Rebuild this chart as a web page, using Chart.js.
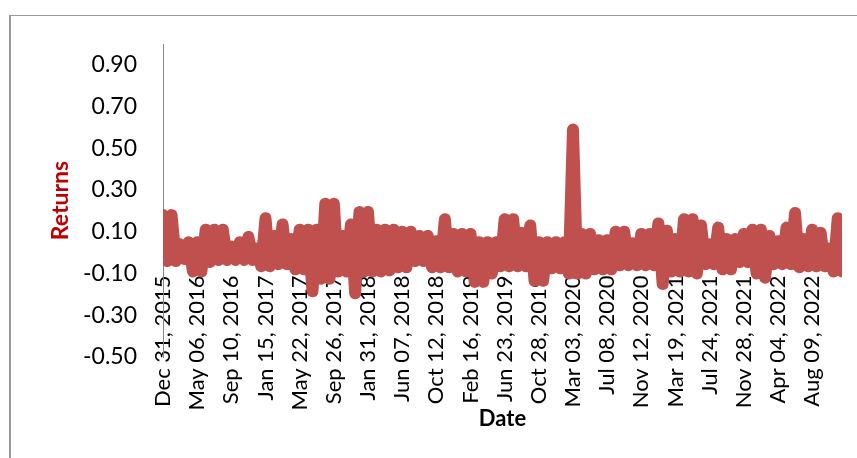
<!DOCTYPE html>
<html>
<head>
<meta charset="utf-8">
<script src="https://cdn.jsdelivr.net/npm/chart.js@4.4.1/dist/chart.umd.min.js"></script>
<style>
  html, body { margin: 0; padding: 0; background: #fff; }
  #wrap { position: relative; width: 857px; height: 458px; overflow: hidden; }
  #frame { position: absolute; left: 9px; top: 15px; width: 900px; height: 500px;
           border-left: 2px solid #999; border-top: 1px solid #999; }
  canvas { position: absolute; left: 0; top: 0; }
</style>
</head>
<body>
<div id="wrap">
  <div id="frame"></div>
  <canvas id="returnsChart" width="857" height="458"></canvas>
</div>
<script>
// fechas que se ven en el eje x (una cada 8 puntos)
const tickLabels = [
  "Dec 31, 2015", "May 06, 2016", "Sep 10, 2016", "Jan 15, 2017", "May 22, 2017",
  "Sep 26, 2017", "Jan 31, 2018", "Jun 07, 2018", "Oct 12, 2018", "Feb 16, 2019",
  "Jun 23, 2019", "Oct 28, 2019", "Mar 03, 2020", "Jul 08, 2020", "Nov 12, 2020",
  "Mar 19, 2021", "Jul 24, 2021", "Nov 28, 2021", "Apr 04, 2022", "Aug 09, 2022"
];
const pointsPerTick = 8;

// marcas del eje y
const yTicks = [-0.5, -0.3, -0.1, 0.1, 0.3, 0.5, 0.7, 0.9];

// rendimientos (picos y valles alternos)
const returns = [
  0.18, -0.04, 0.18, -0.04, 0.04, -0.03, 0.05, -0.09, 0.05, -0.09,
  0.11, -0.045, 0.11, -0.035, 0.11, -0.035, 0.03, -0.035, 0.05, -0.035,
  0.075, -0.035, 0.02, -0.065, 0.165, -0.065, 0.08, -0.055, 0.135, -0.055,
  0.065, -0.08, 0.11, -0.08, 0.11, -0.185, 0.11, -0.125, 0.235, -0.125,
  0.235, -0.09, 0.08, -0.09, 0.135, -0.195, 0.195, -0.09, 0.195, -0.09,
  0.11, -0.09, 0.11, -0.085, 0.11, -0.07, 0.10, -0.07, 0.10, -0.04,
  0.08, -0.04, 0.08, -0.07, 0.055, -0.07, 0.16, -0.07, 0.09, -0.09,
  0.09, -0.09, 0.09, -0.14, 0.05, -0.14, 0.05, -0.10, 0.05, -0.065,
  0.16, -0.065, 0.16, -0.065, 0.095, -0.065, 0.13, -0.135, 0.05, -0.135,
  0.05, -0.075, 0.05, -0.075, 0.05, -0.10, 0.59, -0.10, 0.09, -0.10,
  0.09, -0.08, 0.06, -0.08, 0.06, -0.08, 0.10, -0.06, 0.10, -0.06,
  0.045, -0.06, 0.09, -0.06, 0.09, -0.06, 0.14, -0.15, 0.105, -0.09,
  0.065, -0.09, 0.16, -0.09, 0.16, -0.10, 0.13, -0.055, 0.04, -0.055,
  0.12, -0.08, 0.065, -0.08, 0.065, -0.045, 0.09, -0.045, 0.11, -0.10,
  0.11, -0.12, 0.08, -0.055, 0.055, -0.055, 0.12, -0.055, 0.19, -0.07,
  0.065, -0.065, 0.11, -0.065, 0.095, -0.065, 0.02, -0.09, 0.165, -0.09
];

const labels = returns.map((v, i) => i % pointsPerTick === 0 ? tickLabels[i / pointsPerTick] : '');

const ctx = document.getElementById('returnsChart').getContext('2d');
new Chart(ctx, {
  type: 'line',
  data: {
    labels: labels,
    datasets: [{
      label: 'Returns',
      data: returns,
      borderColor: '#C0504D',
      borderWidth: 12,
      borderJoinStyle: 'round',
      borderCapStyle: 'round',
      pointRadius: 0,
      tension: 0,
      fill: false,
      clip: 0
    }]
  },
  options: {
    responsive: false,
    animation: false,
    devicePixelRatio: 1,
    layout: { padding: { left: 0, top: 44, right: 15, bottom: 101 } },
    plugins: { legend: { display: false }, tooltip: { enabled: false } },
    scales: {
      x: {
        type: 'category',
        position: { y: -0.1 },
        offset: false,
        grid: { display: false, drawTicks: false },
        border: { display: false },
        ticks: {
          autoSkip: false,
          minRotation: 90,
          maxRotation: 90,
          padding: 2,
          color: '#000',
          font: { family: 'Lato', size: 22 },
          callback: function (val) {
            const l = this.getLabelForValue(val);
            return l === '' ? null : l;
          }
        },
        title: {
          display: true, text: 'Date', color: '#000', padding: 0,
          font: { family: 'Lato', size: 22, weight: 'bold' }
        },
        afterFit: s => { s.height = 159; s.paddingLeft = 0; s.paddingRight = 0; }
      },
      y: {
        min: -0.5,
        max: 1.0,
        afterBuildTicks: s => { s.ticks = yTicks.map(v => ({ value: v })); },
        grid: { display: false, drawTicks: false },
        border: { display: true, color: '#888', width: 1 },
        ticks: {
          padding: 26,
          color: '#000',
          font: { family: 'Lato', size: 23 },
          callback: v => v.toFixed(2)
        },
        title: {
          display: true, text: 'Returns', color: '#C00000',
          padding: { top: 47, bottom: 0 },
          font: { family: 'Lato', size: 23, weight: 'bold' }
        },
        afterFit: s => { s.width = 163; }
      }
    }
  }
});
</script>
</body>
</html>
